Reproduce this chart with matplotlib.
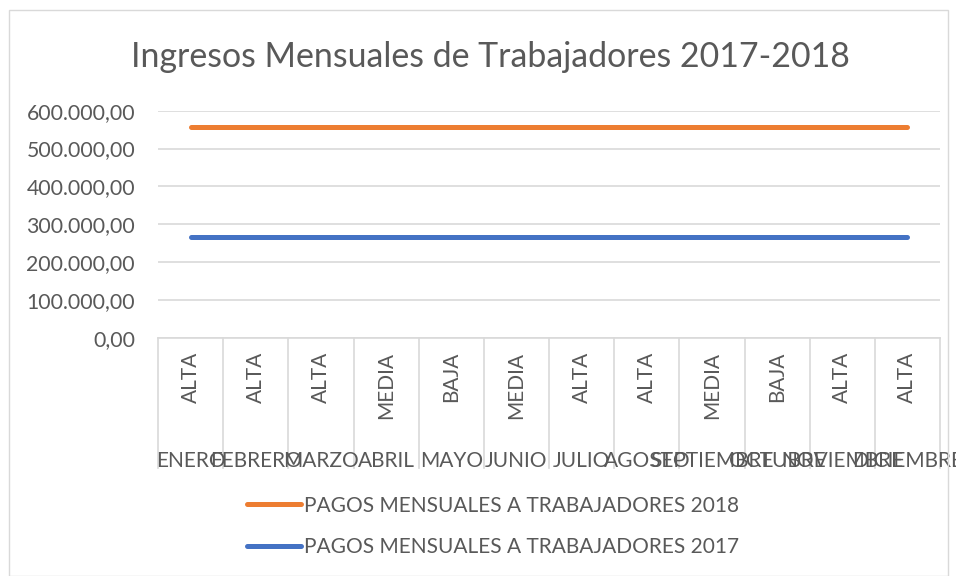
import matplotlib
matplotlib.use("Agg")
import matplotlib.pyplot as plt
from matplotlib.patches import Rectangle
from matplotlib.ticker import FuncFormatter

plt.rcParams['font.family'] = ['Lato', 'DejaVu Sans']

meses = ['ENERO', 'FEBRERO', 'MARZO', 'ABRIL', 'MAYO', 'JUNIO', 'JULIO',
         'AGOSTO', 'SEPTIEMBRE', 'OCTUBRE', 'NOVIEMBRE', 'DICIEMBRE']
temporada = ['ALTA', 'ALTA', 'ALTA', 'MEDIA', 'BAJA', 'MEDIA', 'ALTA',
             'ALTA', 'MEDIA', 'BAJA', 'ALTA', 'ALTA']
pagos_2018 = [556000] * 12
pagos_2017 = [266000] * 12
y_ticks = [0, 100000, 200000, 300000, 400000, 500000, 600000]

W, H = 956, 576
gris_txt = '#595959'
gris_linea = '#D9D9D9'

fig = plt.figure(figsize=(W / 100, H / 100), dpi=100)
fig.patches.append(Rectangle((9 / W, 0), (948 - 9) / W, 1 - 10 / H,
                             transform=fig.transFigure, fill=False,
                             edgecolor=gris_linea, linewidth=1))

# plot area in pixels: x 158..940, y 110.7 (600k) .. 338 (0)
ax = fig.add_axes([158 / W, 1 - 338 / H, (940 - 158) / W, (338 - 110.7) / H])
x = list(range(len(meses)))
ax.plot(x, pagos_2018, color='#ED7D31', linewidth=3.6, solid_capstyle='round',
        label='PAGOS MENSUALES A TRABAJADORES 2018')
ax.plot(x, pagos_2017, color='#4472C4', linewidth=3.6, solid_capstyle='round',
        label='PAGOS MENSUALES A TRABAJADORES 2017')

ax.set_xlim(-0.5, len(meses) - 0.5)
ax.set_ylim(0, 600000)
ax.set_yticks(y_ticks)
ax.yaxis.set_major_formatter(FuncFormatter(
    lambda v, p: f"{v:,.2f}".replace(',', 'X').replace('.', ',').replace('X', '.')))
ax.tick_params(axis='y', length=0, labelsize=15.3, labelcolor=gris_txt, pad=16.5)
ax.set_xticks([])
ax.grid(axis='y', color=gris_linea, linewidth=1.2)
ax.set_axisbelow(True)
for s in ['top', 'right', 'left']:
    ax.spines[s].set_visible(False)
ax.spines['bottom'].set_color(gris_linea)
ax.spines['bottom'].set_linewidth(1.2)

# multi-level category axis: season (rotated) above month
ax_h = 338 - 110.7
tr = ax.get_xaxis_transform()
for i in range(len(meses) + 1):
    ax.plot([i - 0.5, i - 0.5], [0, -130 / ax_h], transform=tr,
            color=gris_linea, linewidth=1.2, clip_on=False)
for i, (m, t) in enumerate(zip(meses, temporada)):
    ax.text(i, -14 / ax_h, t, transform=tr, rotation=90, ha='center', va='top',
            fontsize=15, color=gris_txt)
    ax.text(i, -123 / ax_h, m, transform=tr, ha='center', va='center',
            fontsize=15, color=gris_txt)

fig.text(490 / W, 1 - 57 / H, 'Ingresos Mensuales de Trabajadores 2017-2018',
         ha='center', va='center', fontsize=24.4, color=gris_txt)

fig.legend(loc='center', bbox_to_anchor=(493 / W, 1 - 526.5 / H), frameon=False,
           fontsize=15, labelcolor=gris_txt, handlelength=2.6,
           handletextpad=0.1, labelspacing=1.05)

fig.savefig('out.png', dpi=100)
